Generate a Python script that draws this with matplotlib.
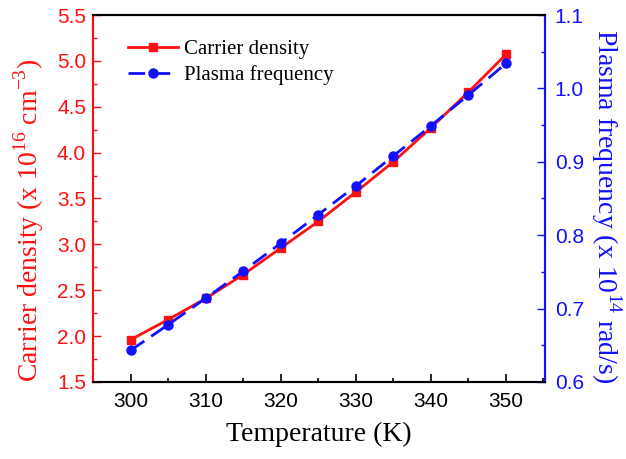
import matplotlib.pyplot as plt
import numpy as np
from matplotlib.ticker import MultipleLocator, FormatStrFormatter

temperature = [300, 305, 310, 315, 320, 325, 330, 335, 340, 345, 350]
carrier_density = [1.96, 2.18, 2.41, 2.67, 2.96, 3.25, 3.57, 3.90, 4.27, 4.66, 5.07]
plasma_freq = [0.643, 0.678, 0.714, 0.751, 0.789, 0.828, 0.867, 0.908, 0.949, 0.991, 1.034]

red = '#ff1010'
blue = '#1010ff'
serif = 'Liberation Serif'
sans = 'Liberation Sans'

plt.rcParams['mathtext.fontset'] = 'custom'
plt.rcParams['mathtext.rm'] = serif

fig = plt.figure(figsize=(6.26, 4.59), dpi=100)
ax1 = fig.add_axes([0.1486, 0.1678, 0.7220, 0.7995])
ax2 = ax1.twinx()

l1, = ax1.plot(temperature, carrier_density, color=red, lw=2, marker='s',
               ms=6, label='Carrier density')
l2, = ax2.plot(temperature, plasma_freq, color=blue, lw=2, ls=(0, (6, 3)),
               marker='o', ms=6.5, label='Plasma frequency')

ax1.set_xlim(295, 355.2)
ax1.set_ylim(1.5, 5.5)
ax2.set_ylim(0.6, 1.1)

# ticks
ax1.xaxis.set_major_locator(MultipleLocator(10))
ax1.xaxis.set_minor_locator(MultipleLocator(5))
ax1.yaxis.set_major_locator(MultipleLocator(0.5))
ax1.yaxis.set_minor_locator(MultipleLocator(0.25))
ax1.yaxis.set_major_formatter(FormatStrFormatter('%.1f'))
ax2.yaxis.set_major_locator(MultipleLocator(0.1))
ax2.yaxis.set_minor_locator(MultipleLocator(0.05))
ax2.yaxis.set_major_formatter(FormatStrFormatter('%.1f'))

ax1.tick_params(axis='x', which='both', direction='in', colors='black',
                labelsize=15, pad=7)
ax1.tick_params(axis='x', which='major', length=6, width=1.2)
ax1.tick_params(axis='x', which='minor', length=3, width=1.2)
ax1.tick_params(axis='y', which='both', direction='in', colors=red,
                labelsize=15, width=1.0, pad=5)
ax1.tick_params(axis='y', which='major', length=6)
ax1.tick_params(axis='y', which='minor', length=3)
ax2.tick_params(axis='y', which='both', direction='in', colors=blue,
                labelsize=15, width=1.0, pad=7)
ax2.tick_params(axis='y', which='major', length=6)
ax2.tick_params(axis='y', which='minor', length=3)
for lab in ax1.get_xticklabels() + ax1.get_yticklabels() + ax2.get_yticklabels():
    lab.set_fontfamily(sans)

# spines
for ax in (ax1, ax2):
    ax.spines['top'].set_color('black')
    ax.spines['bottom'].set_color('black')
    ax.spines['left'].set_color(red)
    ax.spines['right'].set_color(blue)
    for s in ax.spines.values():
        s.set_linewidth(1.5)

ax1.set_xlabel('Temperature (K)', fontfamily=serif, fontsize=20, labelpad=8)
ax1.set_ylabel(r'Carrier density (x 10$^{16}$ cm$^{-3}$)', fontfamily=serif,
               fontsize=20, color=red)
ax2.set_ylabel(r'Plasma frequency (x 10$^{14}$ rad/s)', fontfamily=serif,
               fontsize=20, color=blue, rotation=270, va='center')
ax1.yaxis.set_label_coords(-0.105, 0.44)
ax2.yaxis.set_label_coords(1.136, 0.48)

ax1.legend(handles=[l1, l2], loc='upper left', bbox_to_anchor=(0.035, 0.985),
           frameon=False, prop={'family': serif, 'size': 15},
           handlelength=2.4, handletextpad=0.3, labelspacing=0.3)

fig.savefig('out.png', dpi=100)
